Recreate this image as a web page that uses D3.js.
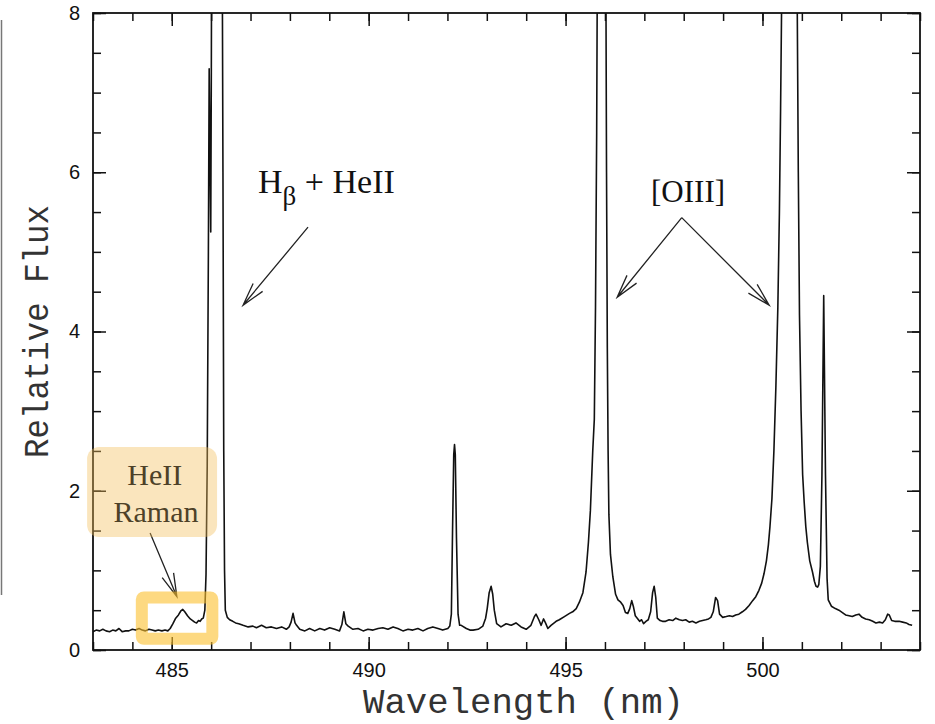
<html>
<head>
<meta charset="utf-8">
<title>HeII Raman spectrum</title>
<script src="https://d3js.org/d3.v7.min.js"></script>
<style>
  body { margin: 0; background: #fff; }
  .tick text { font-family: "Liberation Sans", Arial, sans-serif; font-size: 20px; fill: #111; }
  .tick line { stroke: #111; stroke-width: 1.5px; }
  .axtitle { font-family: "Liberation Mono", "DejaVu Sans Mono", monospace; font-size: 35px; fill: #333; }
  .note { font-family: "Liberation Serif", "Times New Roman", serif; font-size: 31px; fill: #111; }
</style>
</head>
<body>
<div id="chart"></div>
<script>
// spectrum (nm, relative flux); peaks above 8 are clipped
var wavelength = [
  483.00,483.08,483.17,483.25,483.33,483.42,483.50,483.58,483.66,483.74,483.83,483.91,
  484.00,484.08,484.17,484.25,484.33,484.42,484.50,484.58,484.66,484.75,484.83,484.90,
  484.96,485.03,485.10,485.17,485.23,485.28,485.33,485.40,485.47,485.53,485.58,485.63,
  485.68,485.72,485.76,485.80,485.84,485.87,485.90,485.93,485.95,485.99,486.005,486.02,
  486.15,486.27,486.30,486.32,486.34,486.36,486.41,486.47,486.55,486.62,486.70,486.81,
  486.94,487.06,487.15,487.28,487.40,487.53,487.66,487.79,487.91,487.98,488.03,488.08,
  488.13,488.17,488.25,488.38,488.50,488.63,488.76,488.88,489.01,489.14,489.26,489.32,
  489.37,489.42,489.48,489.60,489.73,489.86,489.98,490.11,490.24,490.36,490.49,490.62,
  490.74,490.87,491.00,491.12,491.25,491.38,491.50,491.63,491.76,491.88,492.01,492.06,
  492.10,492.13,492.16,492.18,492.20,492.23,492.27,492.31,492.35,492.48,492.57,492.65,
  492.78,492.90,492.97,493.01,493.06,493.11,493.15,493.19,493.25,493.36,493.49,493.62,
  493.74,493.87,494.00,494.12,494.21,494.25,494.32,494.38,494.44,494.49,494.55,494.63,
  494.76,494.84,494.97,495.10,495.18,495.27,495.35,495.44,495.52,495.58,495.63,495.69,
  495.73,495.76,495.79,495.81,495.85,495.92,495.99,496.02,496.04,496.06,496.08,496.10,
  496.14,496.20,496.27,496.33,496.40,496.46,496.52,496.58,496.63,496.68,496.72,496.77,
  496.82,496.88,496.93,496.98,497.04,497.10,497.16,497.21,497.25,497.29,497.33,497.40,
  497.46,497.54,497.63,497.72,497.80,497.89,497.97,498.05,498.14,498.22,498.31,498.40,
  498.48,498.56,498.63,498.69,498.75,498.81,498.86,498.91,498.99,499.08,499.16,499.24,
  499.32,499.40,499.49,499.57,499.66,499.75,499.83,499.91,499.98,500.04,500.10,500.15,
  500.19,500.24,500.29,500.34,500.39,500.43,500.46,500.49,500.55,500.68,500.82,500.88,
  500.91,500.94,500.98,501.02,501.06,501.10,501.14,501.20,501.27,501.32,501.36,501.40,
  501.43,501.47,501.51,501.555,501.60,501.64,501.67,501.75,501.85,501.94,502.03,502.11,
  502.20,502.28,502.37,502.45,502.53,502.62,502.71,502.80,502.88,502.97,503.05,503.12,
  503.18,503.22,503.28,503.36,503.47,503.56,503.65,503.72,503.80
];
var flux = [
  0.23,0.25,0.24,0.26,0.24,0.23,0.25,0.24,0.27,0.23,0.24,0.24,
  0.26,0.25,0.27,0.25,0.24,0.26,0.25,0.24,0.25,0.24,0.25,0.24,
  0.27,0.33,0.40,0.44,0.49,0.51,0.48,0.43,0.39,0.37,0.35,0.34,
  0.37,0.36,0.39,0.40,0.50,0.95,2.3,5.0,7.3,5.25,7.3,10.5,
  14,10.5,6.0,2.5,1.0,0.50,0.41,0.38,0.36,0.34,0.33,0.31,
  0.29,0.30,0.28,0.31,0.28,0.29,0.27,0.29,0.26,0.29,0.35,0.46,
  0.34,0.31,0.26,0.24,0.27,0.24,0.27,0.25,0.28,0.26,0.24,0.32,
  0.48,0.33,0.30,0.26,0.27,0.24,0.26,0.25,0.27,0.28,0.26,0.29,
  0.27,0.24,0.26,0.25,0.27,0.24,0.27,0.29,0.27,0.25,0.27,0.30,
  0.45,1.5,2.45,2.58,2.45,1.4,0.45,0.31,0.31,0.27,0.25,0.25,
  0.26,0.30,0.40,0.52,0.72,0.80,0.70,0.50,0.33,0.29,0.33,0.31,
  0.34,0.29,0.26,0.31,0.42,0.45,0.38,0.31,0.39,0.34,0.27,0.31,
  0.36,0.38,0.42,0.46,0.48,0.52,0.60,0.72,0.98,1.35,1.75,2.5,
  2.9,4.3,6.5,9,14,20,14,9,6,3.8,2.5,1.7,
  1.2,0.92,0.70,0.63,0.60,0.56,0.47,0.46,0.52,0.62,0.55,0.43,
  0.40,0.36,0.38,0.33,0.36,0.38,0.48,0.72,0.80,0.66,0.40,0.37,
  0.36,0.36,0.38,0.37,0.40,0.38,0.37,0.38,0.35,0.36,0.34,0.36,
  0.37,0.38,0.39,0.41,0.48,0.66,0.62,0.45,0.41,0.42,0.43,0.42,
  0.44,0.45,0.48,0.51,0.56,0.62,0.67,0.75,0.84,0.96,1.12,1.32,
  1.55,1.9,2.5,3.3,4.3,5.5,6.8,8.3,12,25,12,8.3,
  6,4.2,3.0,2.2,1.85,1.55,1.35,1.12,0.98,0.86,0.80,0.79,
  0.82,1.05,2.2,4.45,2.2,0.9,0.63,0.55,0.52,0.50,0.47,0.44,
  0.43,0.42,0.44,0.45,0.41,0.39,0.38,0.36,0.34,0.35,0.34,0.38,
  0.45,0.44,0.37,0.36,0.36,0.35,0.34,0.32,0.31
];

var xMajor = [485, 490, 495, 500];
var xMinor = d3.range(483, 505, 1);
var yMajor = [0, 2, 4, 6, 8];
var yMinor = d3.range(0, 8.01, 0.5);

// annotations, in data units
var hbText = [487.19, 5.74];
var hbArrow = [[488.46, 5.31], [486.81, 4.33]];
var oiiiText = [498.11, 5.63];
var oiiiArrows = [[[497.95, 5.43], [496.31, 4.43]], [[497.95, 5.43], [500.17, 4.33]]];
var ramanLabel = ["HeII", "Raman"];
var ramanText = [[484.57, 2.07], [484.60, 1.61]];
var ramanArrow = [[484.45, 1.47], [485.13, 0.67]];
var ramanBox = [482.85, 486.15, 2.55, 1.42];
var ramanHighlight = [484.24, 486.03, 0.66, 0.14];

var W = 935, H = 724;
var margin = {top: 13, right: 15, bottom: 74, left: 93};
var width = W - margin.left - margin.right, height = H - margin.top - margin.bottom;

var svg = d3.select("#chart").append("svg").attr("width", W).attr("height", H);

// stray rule on the far left of the original scan
svg.append("line").attr("x1", 1.5).attr("x2", 1.5).attr("y1", 20).attr("y2", 595)
  .style("stroke", "#777").style("stroke-width", 1.5);

var g = svg.append("g").attr("transform", "translate(" + margin.left + "," + margin.top + ")");

var x = d3.scaleLinear().domain([483, 504]).range([0, width]);
var y = d3.scaleLinear().domain([0, 8]).range([height, 0]);

g.append("clipPath").attr("id", "clip").append("rect").attr("width", width).attr("height", height);

// ticks, all four sides, pointing in
function ax(gen, vals, size, fmt, tr) {
  var a = g.append("g").attr("transform", tr || null)
    .call(gen.tickValues(vals).tickSize(-size).tickSizeOuter(0).tickPadding(13).tickFormat(fmt));
  a.select(".domain").remove();
  return a;
}
var none = function () { return ""; };
ax(d3.axisBottom(x), xMinor, 8, none, "translate(0," + height + ")");
ax(d3.axisBottom(x), xMajor, 13, d3.format("d"), "translate(0," + height + ")");
ax(d3.axisTop(x), xMinor, 8, none);
ax(d3.axisTop(x), xMajor, 13, none);
ax(d3.axisLeft(y), yMinor, 8, none);
ax(d3.axisLeft(y), yMajor, 13, d3.format("d"));
ax(d3.axisRight(y), yMinor, 8, none, "translate(" + width + ",0)");
ax(d3.axisRight(y), yMajor, 13, none, "translate(" + width + ",0)");

g.append("rect").attr("width", width).attr("height", height)
  .style("fill", "none").style("stroke", "#111").style("stroke-width", 1.8);

var line = d3.line().x(function (d, i) { return x(wavelength[i]); }).y(function (d) { return y(d); });
g.append("path").datum(flux).attr("clip-path", "url(#clip)").attr("d", line)
  .style("fill", "none").style("stroke", "#111").style("stroke-width", 1.6).style("stroke-linejoin", "round");

// axis titles
svg.append("text").attr("class", "axtitle").attr("x", 363).attr("y", 713)
  .attr("textLength", 321).attr("lengthAdjust", "spacingAndGlyphs").text("Wavelength (nm)");
svg.append("text").attr("class", "axtitle").attr("transform", "translate(48,458) rotate(-90)")
  .attr("textLength", 253).attr("lengthAdjust", "spacingAndGlyphs").text("Relative Flux");

// arrows with open heads
function arrow(p0, p1) {
  var x0 = x(p0[0]), y0 = y(p0[1]), x1 = x(p1[0]), y1 = y(p1[1]);
  var a = Math.atan2(y0 - y1, x0 - x1), L = 24, s = 0.26;
  var path = "M" + x0 + "," + y0 + "L" + x1 + "," + y1 +
    "M" + (x1 + L * Math.cos(a + s)) + "," + (y1 + L * Math.sin(a + s)) + "L" + x1 + "," + y1 +
    "L" + (x1 + L * Math.cos(a - s)) + "," + (y1 + L * Math.sin(a - s));
  g.append("path").attr("d", path).style("fill", "none").style("stroke", "#222").style("stroke-width", 1.3);
}
arrow(hbArrow[0], hbArrow[1]);
oiiiArrows.forEach(function (p) { arrow(p[0], p[1]); });
arrow(ramanArrow[0], ramanArrow[1]);

var hb = g.append("text").attr("class", "note").attr("x", x(hbText[0])).attr("y", y(hbText[1]))
  .style("font-size", "34px");
hb.append("tspan").text("H");
hb.append("tspan").attr("dy", 12).style("font-size", "27px").text("β");
hb.append("tspan").attr("dy", -12).text(" + HeII");

g.append("text").attr("class", "note").attr("x", x(oiiiText[0])).attr("y", y(oiiiText[1]))
  .attr("text-anchor", "middle").text("[OIII]");

// translucent highlight boxes laid over the plot
g.append("rect")
  .attr("x", x(ramanBox[0])).attr("y", y(ramanBox[2]))
  .attr("width", x(ramanBox[1]) - x(ramanBox[0])).attr("height", y(ramanBox[3]) - y(ramanBox[2]))
  .attr("rx", 12).style("fill", "#f3bd5a").style("opacity", 0.4);
g.append("rect")
  .attr("x", x(ramanHighlight[0])).attr("y", y(ramanHighlight[2]))
  .attr("width", x(ramanHighlight[1]) - x(ramanHighlight[0])).attr("height", y(ramanHighlight[3]) - y(ramanHighlight[2]))
  .attr("rx", 2).style("fill", "none").style("stroke", "#fbc02d").style("stroke-width", 12).style("opacity", 0.6);

g.selectAll(".raman").data(ramanLabel).enter().append("text").attr("class", "note raman")
  .attr("x", function (d, i) { return x(ramanText[i][0]); })
  .attr("y", function (d, i) { return y(ramanText[i][1]); })
  .attr("text-anchor", "middle").style("font-size", "30px").style("fill", "#4d4128")
  .text(function (d) { return d; });
</script>
</body>
</html>
